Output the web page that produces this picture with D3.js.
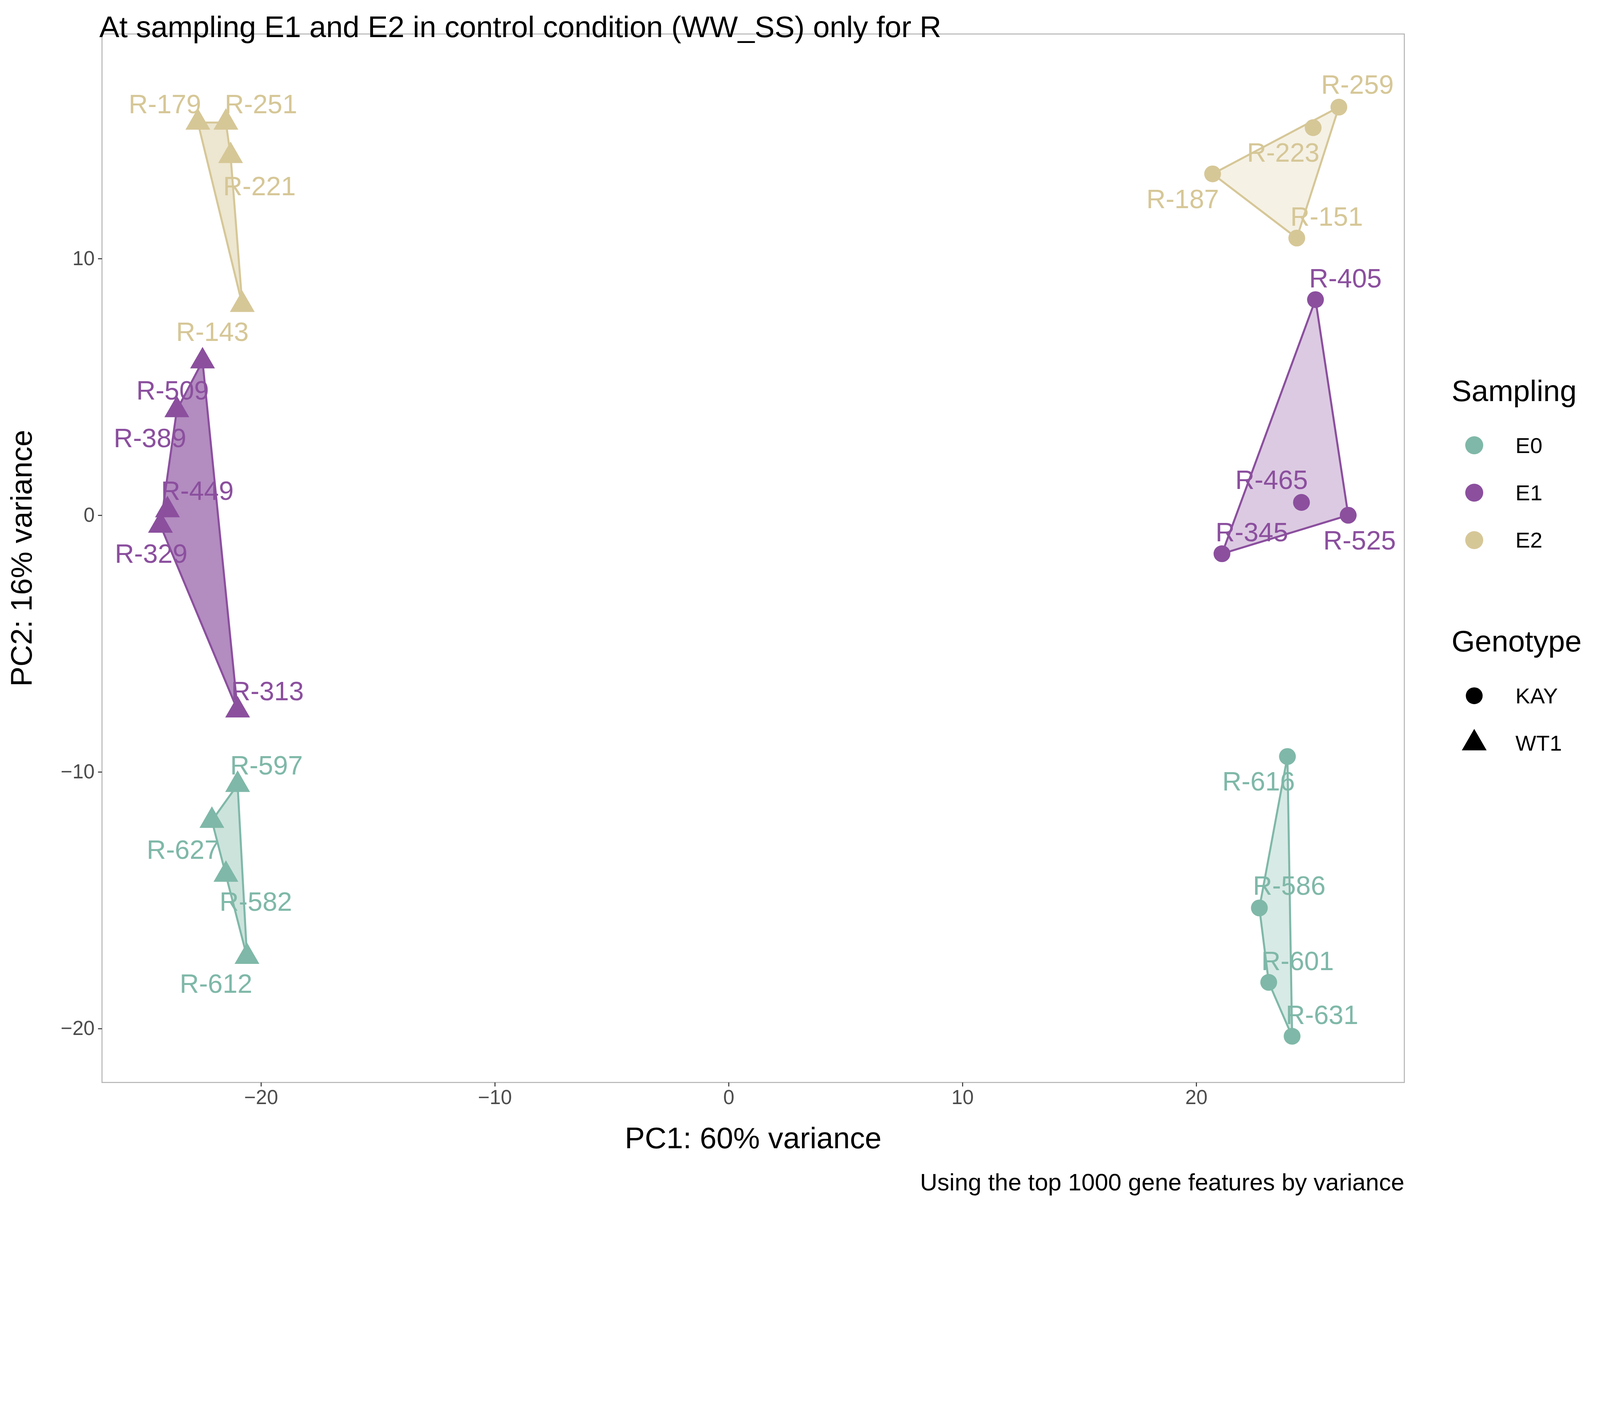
<!DOCTYPE html>
<html><head><meta charset="utf-8">
<script src="https://cdn.jsdelivr.net/npm/d3@7"></script>
<style>html,body{margin:0;padding:0;width:100%;height:100%;overflow:hidden;background:#fff}svg{display:block}text{font-family:Arial,"Liberation Sans",sans-serif}</style>
</head><body><svg id="c" viewBox="0 0 4800 3600" preserveAspectRatio="xMidYMin meet" width="100%" height="100%"></svg>
<script>
var samples  = ['R-179','R-251','R-221','R-143','R-259','R-223','R-187','R-151','R-509','R-389','R-449','R-329','R-313','R-405','R-465','R-525','R-345','R-597','R-627','R-582','R-612','R-616','R-586','R-601','R-631'];
var sampling = ['E2','E2','E2','E2','E2','E2','E2','E2','E1','E1','E1','E1','E1','E1','E1','E1','E1','E0','E0','E0','E0','E0','E0','E0','E0'];
var genotype = ['WT1','WT1','WT1','WT1','KAY','KAY','KAY','KAY','WT1','WT1','WT1','WT1','WT1','KAY','KAY','KAY','KAY','WT1','WT1','WT1','WT1','KAY','KAY','KAY','KAY'];
var pc1 = [-22.7,-21.5,-21.3,-20.8,26.1,25.0,20.7,24.3,-22.5,-23.6,-24.0,-24.3,-21.0,25.1,24.5,26.5,21.1,-21.0,-22.1,-21.5,-20.6,23.9,22.7,23.1,24.1];
var pc2 = [15.3,15.3,14.0,8.2,15.9,15.1,13.3,10.8,6.0,4.1,0.2,-0.4,-7.6,8.4,0.5,0.0,-1.5,-10.5,-11.9,-14.0,-17.2,-9.4,-15.3,-18.2,-20.3];
var xTicks = [-20,-10,0,10,20];
var yTicks = [-20,-10,0,10];
var levels = ['E0','E1','E2'];
var colors = ['#7fb8a8','#8b4f9e','#d6c797'];

// label nudges (in reference-pixel units, scaled below)
var labDx = [-32,34,28,-29,18,-29,-29,29,-29,-26,29,-9,29,29,-29,11,29,28,-28,29,-30,-28,29,28,29];
var labDy = [-18,-18,29,26,-22,24,24,-21,28,27,-19,27,-19,-21,-22,24,-21,-19,28,26,26,24,-22,-21,-21];

var k = 4800/1552;
var svg = d3.select('#c');
var L=306,R=4213,T=102,B=3248;
var x = d3.scaleLinear().domain([-26.8,28.9]).range([L,R]);
var y = d3.scaleLinear().domain([-22.1,18.75]).range([B,T]);
var col = d3.scaleOrdinal().domain(levels).range(colors);

var data = samples.map(function(s,i){return {s:s,g:sampling[i],gt:genotype[i],x:pc1[i],y:pc2[i],dx:labDx[i]*k,dy:labDy[i]*k};});

svg.append('rect').attr('x',L).attr('y',T).attr('width',R-L).attr('height',B-T).attr('fill','none').attr('stroke','#b3b3b3').attr('stroke-width',3);

// hulls
var alpha = {'E0WT1':0.4,'E0KAY':0.3,'E1WT1':0.65,'E1KAY':0.3,'E2WT1':0.45,'E2KAY':0.25};
d3.groups(data,function(d){return d.g+d.gt;}).forEach(function(gr){
  var pts = gr[1].map(function(d){return [x(d.x),y(d.y)];});
  var h = d3.polygonHull(pts);
  svg.append('path').attr('d','M'+h.join('L')+'Z')
    .attr('fill',col(gr[1][0].g)).attr('fill-opacity',alpha[gr[0]])
    .attr('stroke',col(gr[1][0].g)).attr('stroke-width',6).attr('stroke-linejoin','round');
});

var tri = d3.symbol().type(d3.symbolTriangle).size(2400);
svg.selectAll('.pt').data(data).enter().append('path')
  .attr('transform',function(d){return 'translate('+x(d.x)+','+y(d.y)+')';})
  .attr('d',function(d){return d.gt==='KAY'?d3.symbol().type(d3.symbolCircle).size(2000)():tri();})
  .attr('fill',function(d){return col(d.g);});

svg.selectAll('.lab').data(data).enter().append('text')
  .attr('x',function(d){return x(d.x)+d.dx;}).attr('y',function(d){return y(d.y)+d.dy;})
  .attr('text-anchor','middle').attr('dominant-baseline','central')
  .attr('font-size',80).attr('fill',function(d){return col(d.g);}).text(function(d){return d.s;});

// axes
var xa = svg.append('g').attr('transform','translate(0,'+B+')').call(d3.axisBottom(x).tickValues(xTicks).tickSize(12).tickPadding(10));
var ya = svg.append('g').attr('transform','translate('+L+',0)').call(d3.axisLeft(y).tickValues(yTicks).tickSize(12).tickPadding(10));
[xa,ya].forEach(function(a){
  a.select('.domain').remove();
  a.selectAll('line').attr('stroke','#333').attr('stroke-width',3);
  a.selectAll('text').attr('font-size',60).attr('fill','#4d4d4d').style('font-family','Arial');
});

svg.append('text').attr('x',(L+R)/2).attr('y',3445).attr('text-anchor','middle').attr('font-size',90).text('PC1: 60% variance');
svg.append('text').attr('transform','translate(95,'+(T+B)/2+') rotate(-90)').attr('text-anchor','middle').attr('font-size',90).text('PC2: 16% variance');
svg.append('text').attr('x',L-8).attr('y',36*k).attr('font-size',90).text('At sampling E1 and E2 in control condition (WW_SS) only for R');
svg.append('text').attr('x',R).attr('y',1155*k).attr('text-anchor','end').attr('font-size',72).text('Using the top 1000 gene features by variance');

// legends
var lx = 1408*k;
svg.append('text').attr('x',lx).attr('y',389*k).attr('font-size',90).text('Sampling');
levels.forEach(function(l,i){
  var yy=(432+46*i)*k;
  svg.append('circle').attr('cx',1430*k).attr('cy',yy).attr('r',27).attr('fill',col(l));
  svg.append('text').attr('x',1470*k).attr('y',yy).attr('dominant-baseline','central').attr('font-size',66).text(l);
});
svg.append('text').attr('x',lx).attr('y',632*k).attr('font-size',90).text('Genotype');
['KAY','WT1'].forEach(function(l,i){
  var yy=(675+46*i)*k;
  svg.append('path').attr('transform','translate('+1430*k+','+yy+')')
    .attr('d',l==='KAY'?d3.symbol().type(d3.symbolCircle).size(2000)():tri()).attr('fill','#000');
  svg.append('text').attr('x',1470*k).attr('y',yy).attr('dominant-baseline','central').attr('font-size',66).text(l);
});
</script></body></html>
